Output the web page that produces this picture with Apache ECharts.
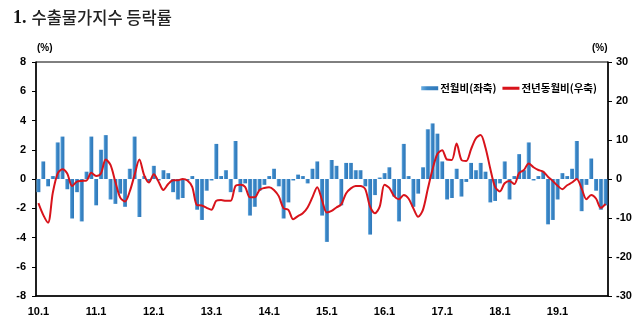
<!DOCTYPE html>
<html>
<head>
<meta charset="utf-8">
<script src="https://cdn.jsdelivr.net/npm/echarts@6/dist/echarts.min.js"></script>
<style>
  html, body { margin: 0; padding: 0; background: #fff; }
  #chart { width: 640px; height: 324px; }
</style>
</head>
<body>
<div id="chart"></div>
<script>
// Monthly periods 2010.1 – 2019.11, labelled "YY.M"
const startYear = 10;
const monthCount = 119;
const categories = [];
for (let i = 0; i < monthCount; i++) {
  categories.push((startYear + Math.floor(i / 12)) + '.' + (i % 12 + 1));
}

// Month-on-month change (%), left axis
const momChange = [
  -0.9, 1.2, -0.5, 0.2, 2.5, 2.9, -0.7, -2.7, -0.9, -2.9, 0.5, 2.9,
  -1.8, 2.0, 3.0, -1.4, -1.7, -1.0, -1.9, 0.7, 2.9, -2.6, 0.2, -0.2,
  0.9, -0.1, 0.6, 0.4, -0.9, -1.4, -1.3, -0.1, 0.2, -2.1, -2.8, -0.8,
  -0.1, 2.4, 0.2, 0.6, -0.9, 2.6, -0.9, -0.3, -2.5, -1.9, -0.8, -0.4,
  0.2, 0.7, -0.5, -2.7, -1.6, -0.1, 0.3, 0.2, -0.3, 0.7, 1.2, -2.5,
  -4.3, 1.3, 0.9, -1.8, 1.1, 1.1, 0.6, 0.6, -0.5, -3.8, -1.1, 0.1,
  0.4, 0.8, -1.2, -2.9, 2.4, 0.2, -1.9, -1.0, 0.8, 3.4, 3.8, 3.1,
  1.2, -1.4, -1.3, 0.7, -1.2, -0.2, 1.1, 0.6, 1.1, 0.5, -1.6, -1.5,
  -0.3, 1.2, -1.4, 0.2, 1.7, 0.6, 2.5, -0.1, 0.2, 0.5, -3.1, -2.8,
  -1.4, 0.4, 0.2, 0.7, 2.6, -2.2, -0.4, 1.4, -0.8, -2.1, -1.8
];

// Year-on-year change (%), right axis
const yoyChange = [
  -6.2, -9.2, -11.2, -3.5, 1.4, 2.5, 1.4, -1.8, -0.7, -0.5, -0.4, 1.6,
  0.8, 1.4, 5.0, 3.6, -0.7, -4.7, -5.8, -3.2, 1.0, 5.0, 1.0, -0.9,
  1.2, -0.7, -2.8, -1.3, -0.3, -0.3, 0.0, -0.4, -2.0, -6.7, -6.8, -7.4,
  -7.9, -5.6, -5.4, -5.6, -5.6, -1.8, -1.5, -2.0, -4.7, -4.7, -2.8, -2.3,
  -2.1, -2.8, -4.4, -7.5, -7.9, -10.3, -9.5, -8.8, -7.3, -4.7, -2.1, -5.4,
  -8.6, -8.2, -7.3, -6.5, -3.7, -2.4, -1.8, -1.8, -2.6, -7.1, -8.8, -7.1,
  -1.5, -2.3, -4.4, -5.2, -4.1, -5.0, -7.5, -9.7, -7.9, -2.6, 2.5, 6.4,
  7.4, 5.0, 4.9, 9.1, 4.9, 4.6, 7.6, 10.4, 11.3, 8.1, 2.7, -2.0,
  -3.2, -1.1, -0.5, -1.3, 1.5, 2.3, 4.0, 3.0, 2.3, 1.9, 0.6, -0.5,
  -1.7, -2.6, -1.6, -0.9, 0.0, -2.4, -5.2, -4.1, -5.0, -7.4, -6.4
];

const seriesNames = ['전월비(좌축)', '전년동월비(우축)'];

const labelFont = {
  fontFamily: 'Liberation Sans, Arial, sans-serif',
  fontWeight: 'bold',
  fontSize: 11,
  color: '#000'
};

const chart = echarts.init(document.getElementById('chart'), null, { renderer: 'canvas' });

chart.setOption({
  animation: false,
  backgroundColor: '#fff',
  title: {
    left: 8,
    top: 4,
    text: '{n|1.} {t|수출물가지수 등락률}',
    textStyle: {
      rich: {
        n: { fontFamily: 'Liberation Serif, serif', fontWeight: 'bold', fontSize: 18, color: '#111' },
        t: { fontFamily: 'Noto Sans CJK KR, sans-serif', fontWeight: 500, fontSize: 16.5, color: '#222' }
      }
    }
  },
  graphic: [
    { type: 'text', left: 37, top: 43, style: { text: '(%)', font: 'bold 10px Liberation Sans, Arial, sans-serif', fill: '#000' } },
    { type: 'text', left: 592, top: 43, style: { text: '(%)', font: 'bold 10px Liberation Sans, Arial, sans-serif', fill: '#000' } }
  ],
  legend: {
    right: 38,
    top: 78,
    itemWidth: 17,
    itemHeight: 4,
    itemGap: 6,
    textStyle: {
      fontFamily: 'Noto Sans CJK KR, sans-serif',
      fontWeight: 'bold',
      fontSize: 10.5,
      color: '#000',
      padding: [0, 0, 0, -3]
    },
    data: [
      { name: seriesNames[0], icon: 'rect' },
      { name: seriesNames[1], icon: 'path://M0,0 L56,0 L56,10 L0,10 Z' }
    ]
  },
  grid: {
    left: 36,
    right: 32,
    top: 62,
    bottom: 28,
    show: true,
    borderColor: '#000',
    borderWidth: 1
  },
  xAxis: {
    type: 'category',
    data: categories,
    boundaryGap: true,
    axisLine: { show: true, onZero: false, lineStyle: { color: '#000', width: 1.5 } },
    axisTick: { show: false },
    axisLabel: Object.assign({ interval: 11, margin: 10 }, labelFont),
    splitLine: { show: false }
  },
  yAxis: [
    {
      type: 'value',
      min: -8,
      max: 8,
      interval: 2,
      axisLine: { show: true, lineStyle: { color: '#000', width: 1.5 } },
      axisTick: { show: true, inside: false, length: 4, lineStyle: { color: '#000' } },
      axisLabel: Object.assign({ margin: 10 }, labelFont),
      splitLine: { show: false }
    },
    {
      type: 'value',
      min: -30,
      max: 30,
      interval: 10,
      axisLine: { show: true, lineStyle: { color: '#000', width: 1.5 } },
      axisTick: { show: true, inside: false, length: 4, lineStyle: { color: '#000' } },
      axisLabel: Object.assign({ margin: 8 }, labelFont),
      splitLine: { show: false }
    }
  ],
  series: [
    {
      name: seriesNames[0],
      type: 'bar',
      yAxisIndex: 0,
      data: momChange,
      barCategoryGap: '18%',
      itemStyle: {
        color: new echarts.graphic.LinearGradient(0, 0, 1, 0, [
          { offset: 0, color: '#6aaee2' },
          { offset: 0.35, color: '#3a86c6' },
          { offset: 1, color: '#2f78b9' }
        ])
      }
    },
    {
      name: seriesNames[1],
      type: 'line',
      yAxisIndex: 1,
      data: yoyChange,
      smooth: 0.3,
      showSymbol: false,
      symbol: 'none',
      lineStyle: { color: '#d8131b', width: 2 },
      itemStyle: { color: '#d8131b' },
      z: 3
    }
  ]
});
</script>
</body>
</html>
